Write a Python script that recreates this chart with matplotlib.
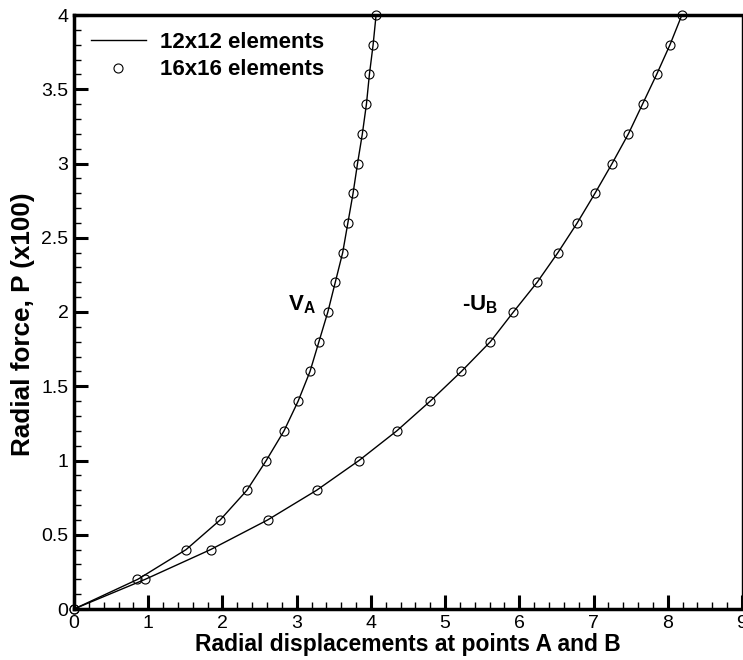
import matplotlib
matplotlib.use("Agg")
import matplotlib.pyplot as plt
from matplotlib.ticker import MultipleLocator, FuncFormatter

plt.rcParams['mathtext.fontset'] = 'custom'
plt.rcParams['mathtext.bf'] = 'Liberation Sans:bold'
plt.rcParams['mathtext.rm'] = 'Liberation Sans'

# radial force P (x100)
force = [0.0, 0.2, 0.4, 0.6, 0.8, 1.0, 1.2, 1.4, 1.6, 1.8, 2.0,
         2.2, 2.4, 2.6, 2.8, 3.0, 3.2, 3.4, 3.6, 3.8, 4.0]

# V_A, 12x12 elements (line) and 16x16 elements (circles)
va_12 = [0.0, 0.86, 1.51, 1.97, 2.33, 2.59, 2.83, 3.02, 3.18, 3.30, 3.42,
         3.52, 3.62, 3.69, 3.76, 3.82, 3.885, 3.94, 3.98, 4.03, 4.07]
va_16 = [0.0, 0.85, 1.51, 1.97, 2.33, 2.59, 2.83, 3.02, 3.18, 3.30, 3.42,
         3.52, 3.62, 3.69, 3.76, 3.82, 3.885, 3.94, 3.98, 4.03, 4.07]

# -U_B
ub_12 = [0.0, 0.96, 1.84, 2.61, 3.27, 3.84, 4.35, 4.80, 5.22, 5.61, 5.92,
         6.24, 6.52, 6.78, 7.02, 7.25, 7.47, 7.66, 7.85, 8.03, 8.19]
ub_16 = [0.0, 0.96, 1.84, 2.61, 3.27, 3.84, 4.35, 4.80, 5.22, 5.61, 5.92,
         6.24, 6.52, 6.78, 7.02, 7.25, 7.47, 7.66, 7.85, 8.03, 8.19]

bold = dict(family=['Liberation Sans', 'DejaVu Sans'], weight='bold')
plain = ['Liberation Sans', 'DejaVu Sans']

fig = plt.figure(figsize=(7.43, 6.6), dpi=100)
ax = fig.add_axes([74 / 743, 51 / 660, 668 / 743, 594 / 660])

ax.plot(va_12, force, color='black', lw=1.0, label='12x12 elements')
ax.plot(ub_12, force, color='black', lw=1.0)
ax.plot(va_16, force, 'o', mfc='none', mec='black', ms=6.5, mew=0.8,
        clip_on=False, label='16x16 elements')
ax.plot(ub_16, force, 'o', mfc='none', mec='black', ms=6.5, mew=0.8,
        clip_on=False)

ax.text(2.88, 2.05, r'$\mathbf{V_A}$', fontsize=16, va='center', ha='left')
ax.text(5.23, 2.05, r'$\mathbf{‐U_B}$', fontsize=16, va='center', ha='left')

ax.set_xlim(0, 9)
ax.set_ylim(0, 4)
ax.xaxis.set_major_locator(MultipleLocator(1))
ax.xaxis.set_minor_locator(MultipleLocator(0.2))
ax.yaxis.set_major_locator(MultipleLocator(0.5))
ax.yaxis.set_minor_locator(MultipleLocator(0.1))
ax.yaxis.set_major_formatter(FuncFormatter(lambda v, p: f"{v:g}"))

ax.tick_params(which='both', direction='in', top=False, right=False,
               width=2.2, pad=4)
ax.tick_params(which='major', length=10)
ax.tick_params(which='minor', length=5, width=1.0)
for lab in ax.get_xticklabels() + ax.get_yticklabels():
    lab.set_family(plain)
    lab.set_fontsize(14)

for s in ['left', 'bottom', 'top']:
    ax.spines[s].set_linewidth(2.5)
ax.spines['right'].set_linewidth(1.0)

ax.set_xlabel('Radial displacements at points A and B', fontsize=16.5,
              labelpad=1, **bold)
ax.set_ylabel('Radial force, P (x100)', fontsize=18.8, **bold)
ax.yaxis.set_label_coords(-0.058, 0.48)

ax.legend(loc='upper left', frameon=False, prop=dict(size=16, **bold),
          handlelength=2.5, handletextpad=0.6, borderaxespad=0.35,
          labelspacing=0.3, bbox_to_anchor=(0.0, 1.0))

fig.savefig('out.png', dpi=100)
